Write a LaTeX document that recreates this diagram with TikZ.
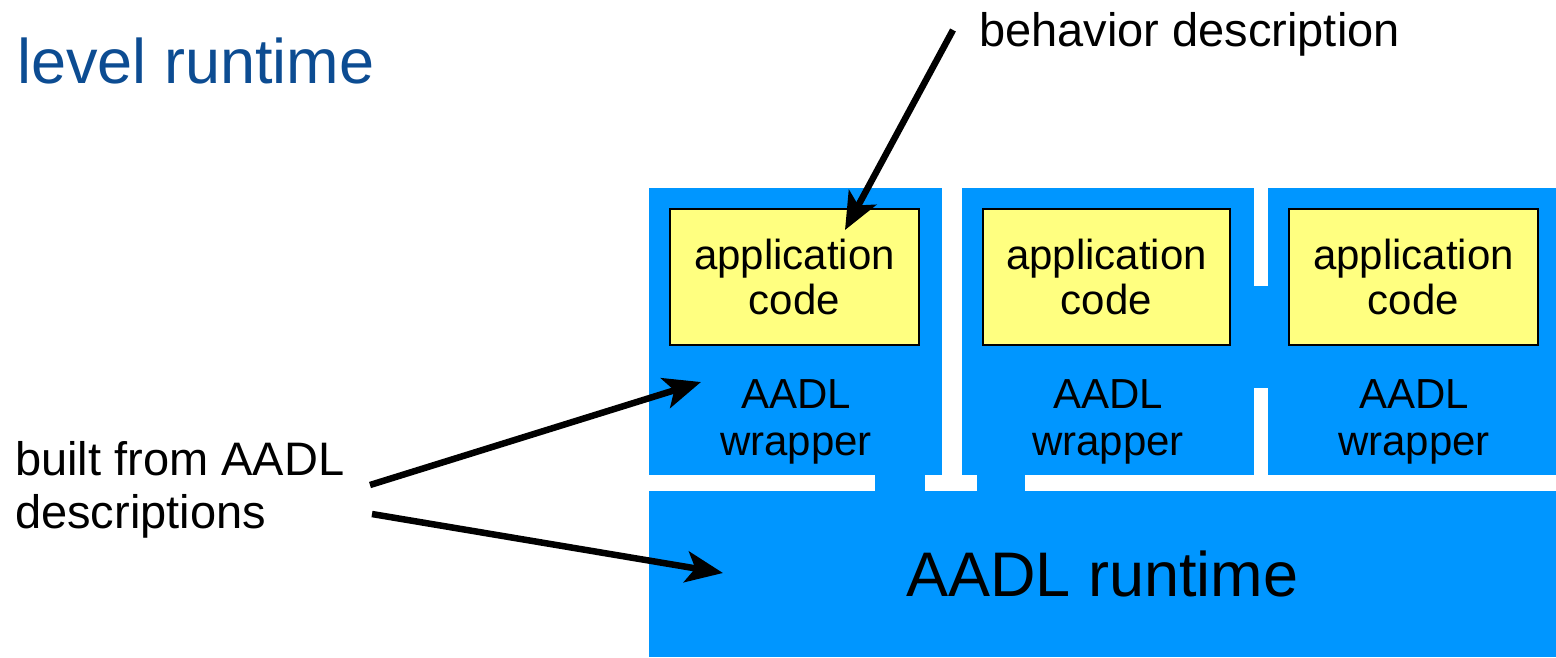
\documentclass[tikz,border=0pt]{standalone}
\usepackage{fontspec}
\setmainfont{Liberation Sans}
\usetikzlibrary{arrows.meta}
\definecolor{boxblue}{RGB}{0,150,255}
\definecolor{codeyellow}{RGB}{255,255,128}
\definecolor{titleblue}{RGB}{12,76,146}
\begin{document}
\begin{tikzpicture}[x=1pt,y=-1pt,
  wrap/.style={fill=boxblue, draw=none, inner sep=0pt, minimum height=287pt},
  code/.style={fill=codeyellow, draw=black, line width=2pt, inner sep=0pt,
     minimum width=249pt, minimum height=136pt, align=center,
     font=\fontsize{42}{45}\selectfont},
  wraptext/.style={align=center, font=\fontsize{42}{47}\selectfont},
  note/.style={align=left, font=\fontsize{47}{53}\selectfont, inner sep=0pt},
  arr/.style={line width=6.5pt, -{Stealth[length=37pt,width=31pt,inset=9pt]}}
]
\useasboundingbox (0,0) rectangle (1556,657);
% wrappers
\node[wrap, minimum width=293pt] (w1) at (795.5,331.5) {};
\node[wrap, minimum width=292pt] (w2) at (1108,331.5) {};
\node[wrap, minimum width=288pt] (w3) at (1412,331.5) {};
\fill[boxblue] (1253,286) rectangle (1269,388);
% runtime
\node[fill=boxblue, inner sep=0pt, minimum width=907pt, minimum height=166pt,
      text depth=0pt, font=\fontsize{63}{70}\selectfont] (rt) at (1102.5,574) {AADL runtime};
\fill[boxblue] (875,473) rectangle (925,495);
\fill[boxblue] (977,473) rectangle (1025,495);
% application code
\node[code] (c1) at (794.5,277) {application\\code};
\node[code, minimum width=247pt] (c2) at (1106.5,277) {application\\code};
\node[code] (c3) at (1413.5,277) {application\\code};
% wrapper labels
\node[wraptext] (t1) at (796,422) {AADL\\wrapper};
\node[wraptext] (t2) at (1108,422) {AADL\\wrapper};
\node[wraptext] (t3) at (1414,422) {AADL\\wrapper};
% titles and notes
\node[anchor=west, inner sep=0pt, text=titleblue, font=\fontsize{63}{70}\selectfont] (title) at (17,61) {level runtime};
\node[anchor=west, inner sep=0pt, font=\fontsize{47}{53}\selectfont] (beh) at (979,34) {behavior description};
\node[anchor=west, note] (built) at (15,490) {built from AADL\\descriptions};
% arrow ends
\coordinate (bs) at (953,30);
\coordinate (bt) at (845,230);
\coordinate (as) at (370,485);
\coordinate (at) at (701,382);
\coordinate (rs) at (372,514);
\coordinate (rtip) at (723,573);
\draw[arr] (bs) -- (bt);
\draw[arr] (as) -- (at);
\draw[arr] (rs) -- (rtip);
\end{tikzpicture}
\end{document}
